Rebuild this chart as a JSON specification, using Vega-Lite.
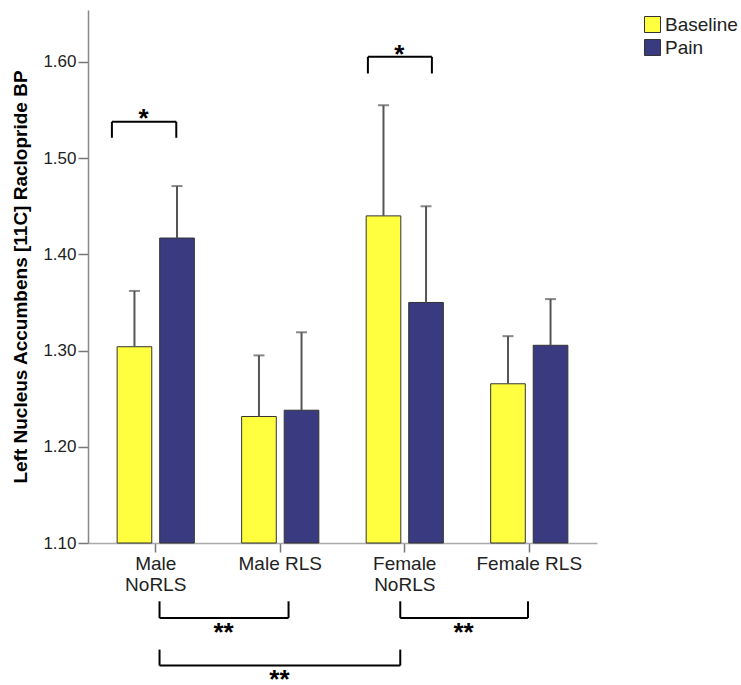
{
  "$schema": "https://vega.github.io/schema/vega-lite/v6.json",
  "width": 509,
  "height": 533,
  "autosize": "none",
  "padding": {"left": 88, "top": 10, "right": 144, "bottom": 142},
  "config": {"view": {"stroke": null}, "font": "Liberation Sans"},
  "datasets": {
    "bars": [
      {"group": "Male NoRLS", "cond": "Baseline", "value": 1.304, "upper": 1.362},
      {"group": "Male NoRLS", "cond": "Pain", "value": 1.417, "upper": 1.471},
      {"group": "Male RLS", "cond": "Baseline", "value": 1.2315, "upper": 1.295},
      {"group": "Male RLS", "cond": "Pain", "value": 1.238, "upper": 1.319},
      {"group": "Female NoRLS", "cond": "Baseline", "value": 1.440, "upper": 1.555},
      {"group": "Female NoRLS", "cond": "Pain", "value": 1.350, "upper": 1.450},
      {"group": "Female RLS", "cond": "Baseline", "value": 1.2655, "upper": 1.315},
      {"group": "Female RLS", "cond": "Pain", "value": 1.3055, "upper": 1.3535}
    ],
    "brackets": [
      {"x": 0.648, "x2": 1.165, "y": 1.5378, "y2": 1.5378},
      {"x": 0.648, "x2": 0.648, "y": 1.5378, "y2": 1.5212},
      {"x": 1.165, "x2": 1.165, "y": 1.5378, "y2": 1.5212},
      {"x": 2.704, "x2": 3.218, "y": 1.6053, "y2": 1.6053},
      {"x": 2.704, "x2": 2.704, "y": 1.6053, "y2": 1.588},
      {"x": 3.218, "x2": 3.218, "y": 1.6053, "y2": 1.588},
      {"x": 1.0305, "x2": 2.0667, "y": 1.0221, "y2": 1.0221},
      {"x": 1.0305, "x2": 1.0305, "y": 1.0394, "y2": 1.0221},
      {"x": 2.0667, "x2": 2.0667, "y": 1.0394, "y2": 1.0221},
      {"x": 2.9639, "x2": 3.9896, "y": 1.0221, "y2": 1.0221},
      {"x": 2.9639, "x2": 2.9639, "y": 1.0394, "y2": 1.0221},
      {"x": 3.9896, "x2": 3.9896, "y": 1.0394, "y2": 1.0221},
      {"x": 1.0305, "x2": 2.9639, "y": 0.9726, "y2": 0.9726},
      {"x": 1.0305, "x2": 1.0305, "y": 0.9892, "y2": 0.9726},
      {"x": 2.9639, "x2": 2.9639, "y": 0.9892, "y2": 0.9726}
    ],
    "stars": [
      {"x": 0.902, "y": 1.5325, "label": "*"},
      {"x": 2.956, "y": 1.5985, "label": "*"},
      {"x": 1.5446, "y": 0.9982, "label": "**"},
      {"x": 3.472, "y": 0.9982, "label": "**"},
      {"x": 1.994, "y": 0.9491, "label": "**"}
    ]
  },
  "layer": [
    {
      "data": {"name": "bars"},
      "mark": {"type": "bar", "stroke": "#333333", "strokeWidth": 1},
      "encoding": {
        "x": {
          "field": "group", "type": "nominal",
          "sort": ["Male NoRLS", "Male RLS", "Female NoRLS", "Female RLS"],
          "scale": {"paddingInner": 0.38, "paddingOuter": 0.234},
          "axis": {
            "title": null, "labelAngle": 0, "labelFontSize": 19, "labelColor": "#222222",
            "tickSize": 9, "tickColor": "#777777", "tickWidth": 1.5, "domainColor": "#aaaaaa", "domainWidth": 1.5,
            "labelPadding": 2, "labelLineHeight": 21,
            "labelExpr": "indexof(datum.value, 'NoRLS') >= 0 ? split(datum.value, ' ') : datum.value"
          }
        },
        "xOffset": {
          "field": "cond", "type": "nominal", "sort": ["Baseline", "Pain"],
          "scale": {"paddingInner": 0.186, "paddingOuter": 0}
        },
        "y": {
          "field": "value", "type": "quantitative",
          "scale": {"domain": [1.1, 1.654], "nice": false, "zero": false},
          "axis": {
            "title": "Left Nucleus Accumbens [11C] Raclopride BP",
            "values": [1.1, 1.2, 1.3, 1.4, 1.5, 1.6], "format": ".2f", "grid": false,
            "tickSize": 10, "tickColor": "#777777", "tickWidth": 1.5, "domainColor": "#888888", "domainWidth": 1.5,
            "labelFontSize": 17, "labelColor": "#222222", "labelPadding": 2,
            "titleFontSize": 19, "titleFontWeight": "bold", "titleColor": "#000000", "titlePadding": 12
          }
        },
        "y2": {"datum": 1.1},
        "color": {
          "field": "cond", "type": "nominal",
          "scale": {"domain": ["Baseline", "Pain"], "range": ["#FFFF40", "#393A80"]},
          "legend": {
            "title": null, "orient": "right", "offset": 41, "padding": 5,
            "symbolType": "square", "symbolSize": 256, "symbolStrokeColor": "#333333", "symbolStrokeWidth": 1,
            "symbolOpacity": 1, "labelFontSize": 19, "labelColor": "#222222", "labelOffset": 3, "rowPadding": 2
          }
        }
      }
    },
    {
      "data": {"name": "bars"},
      "mark": {"type": "rule", "color": "#555555", "strokeWidth": 2},
      "encoding": {
        "x": {"field": "group", "type": "nominal", "sort": ["Male NoRLS", "Male RLS", "Female NoRLS", "Female RLS"], "scale": {"paddingInner": 0.38, "paddingOuter": 0.234}, "axis": null},
        "xOffset": {"field": "cond", "type": "nominal", "sort": ["Baseline", "Pain"], "scale": {"paddingInner": 0.186, "paddingOuter": 0}},
        "y": {"field": "value", "type": "quantitative"},
        "y2": {"field": "upper"}
      }
    },
    {
      "data": {"name": "bars"},
      "mark": {"type": "tick", "color": "#555555", "thickness": 2, "size": 11},
      "encoding": {
        "x": {"field": "group", "type": "nominal", "sort": ["Male NoRLS", "Male RLS", "Female NoRLS", "Female RLS"], "scale": {"paddingInner": 0.38, "paddingOuter": 0.234}, "axis": null},
        "xOffset": {"field": "cond", "type": "nominal", "sort": ["Baseline", "Pain"], "scale": {"paddingInner": 0.186, "paddingOuter": 0}},
        "y": {"field": "upper", "type": "quantitative"}
      }
    },
    {
      "data": {"name": "brackets"},
      "mark": {"type": "rule", "color": "#000000", "strokeWidth": 2},
      "encoding": {
        "x": {"field": "x", "type": "quantitative", "scale": {"domain": [0.456, 4.544], "nice": false, "zero": false}, "axis": null},
        "x2": {"field": "x2"},
        "y": {"field": "y", "type": "quantitative"},
        "y2": {"field": "y2"}
      }
    },
    {
      "data": {"name": "stars"},
      "mark": {"type": "text", "fontSize": 26, "fontWeight": "bold", "color": "#000000", "baseline": "alphabetic", "align": "center"},
      "encoding": {
        "x": {"field": "x", "type": "quantitative", "scale": {"domain": [0.456, 4.544], "nice": false, "zero": false}, "axis": null},
        "y": {"field": "y", "type": "quantitative"},
        "text": {"field": "label"}
      }
    }
  ],
  "resolve": {"scale": {"x": "independent"}, "axis": {"x": "independent"}}
}
